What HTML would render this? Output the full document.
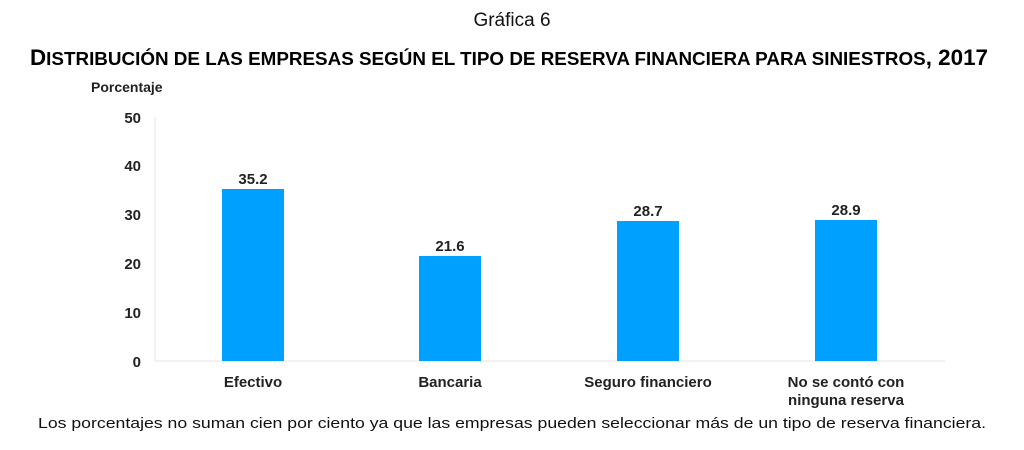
<!DOCTYPE html>
<html><head><meta charset="utf-8"><style>body{margin:0;background:#fff}svg{display:block}</style></head>
<body>
<svg width="1024" height="450" xmlns="http://www.w3.org/2000/svg" font-family="Liberation Sans, Arial, sans-serif">
<text x="512" y="26" font-size="19" text-anchor="middle" fill="#111">Gráfica 6</text>
<text x="30" y="65" font-size="22" font-weight="bold" textLength="958" lengthAdjust="spacingAndGlyphs" fill="#000">D<tspan font-size="18.5">ISTRIBUCIÓN DE LAS EMPRESAS SEGÚN EL TIPO DE RESERVA FINANCIERA PARA SINIESTROS</tspan>, 2017</text>
<text x="91" y="92" font-size="14" font-weight="bold" fill="#222">Porcentaje</text>
<g font-size="15" font-weight="bold" fill="#222" text-anchor="end">
<text x="141" y="123">50</text><text x="141" y="171">40</text><text x="141" y="220">30</text>
<text x="141" y="269">20</text><text x="141" y="318">10</text><text x="141" y="367">0</text>
</g>
<line x1="155" y1="117" x2="155" y2="361" stroke="#e4e4e4" stroke-width="1"/>
<line x1="155" y1="361" x2="945" y2="361" stroke="#e4e4e4" stroke-width="1"/>
<g fill="#00a0ff">
<rect x="222" y="189" width="62" height="172"/>
<rect x="419" y="256" width="62" height="105"/>
<rect x="617" y="221" width="62" height="140"/>
<rect x="815" y="220" width="62" height="141"/>
</g>
<g font-size="15" font-weight="bold" fill="#222" text-anchor="middle">
<text x="253" y="184">35.2</text><text x="450" y="251">21.6</text>
<text x="648" y="216">28.7</text><text x="846" y="215">28.9</text>
<text x="253" y="387">Efectivo</text><text x="450" y="387">Bancaria</text>
<text x="648" y="387">Seguro financiero</text>
<text x="846" y="387">No se contó con</text><text x="846" y="405">ninguna reserva</text>
</g>
<text x="512" y="428" font-size="15" text-anchor="middle" fill="#111" textLength="948" lengthAdjust="spacingAndGlyphs">Los porcentajes no suman cien por ciento ya que las empresas pueden seleccionar más de un tipo de reserva financiera.</text>
</svg>
</body></html>
